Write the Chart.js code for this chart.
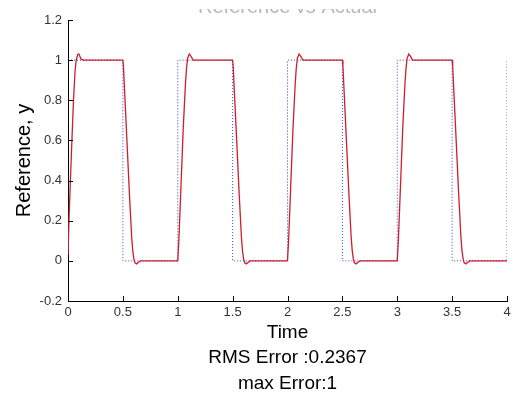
<!DOCTYPE html>
<html>
<head>
<meta charset="utf-8">
<script src="https://cdn.jsdelivr.net/npm/chart.js@4/dist/chart.umd.min.js"></script>
<style>
	body { margin: 0; background: #fff; }
	#wrap { width: 519px; height: 401px; }
</style>
</head>
<body>
<div id="wrap"><canvas id="chart" width="519" height="401"></canvas></div>
<script>
// reference square wave (blue dotted)
var refTime  = [0, 0.5, 0.5, 1, 1, 1.5, 1.5, 2, 2, 2.5, 2.5, 3, 3, 3.5, 3.5, 4, 4];
var refValue = [1, 1,   0,   0, 1, 1,   0,   0, 1, 1,   0,   0, 1, 1,   0,   0, 1];

// actual response (red)
var actualTime = [
	0, 0.01, 0.03, 0.05, 0.065, 0.075, 0.09, 0.1, 0.12, 0.14,
	0.5, 0.505, 0.53, 0.56, 0.58, 0.59, 0.6, 0.61, 0.625, 0.64, 0.66,
	1, 1.01, 1.03, 1.05, 1.07, 1.08, 1.09, 1.105, 1.12, 1.14,
	1.5, 1.505, 1.53, 1.56, 1.58, 1.59, 1.6, 1.61, 1.625, 1.64, 1.66,
	2, 2.01, 2.03, 2.05, 2.07, 2.08, 2.09, 2.105, 2.12, 2.14,
	2.5, 2.505, 2.53, 2.56, 2.58, 2.59, 2.6, 2.61, 2.625, 2.64, 2.66,
	3, 3.01, 3.03, 3.05, 3.07, 3.08, 3.09, 3.105, 3.12, 3.14,
	3.5, 3.505, 3.53, 3.56, 3.58, 3.59, 3.6, 3.61, 3.625, 3.64, 3.66,
	4
];
var actualValue = [
	0.03, 0.22, 0.52, 0.8, 0.95, 1.0, 1.03, 1.03, 1.005, 1.0,
	1.0, 0.97, 0.68, 0.33, 0.12, 0.05, 0.01, -0.01, -0.015, -0.008, 0,
	0, 0.1, 0.38, 0.66, 0.88, 0.96, 1.01, 1.03, 1.02, 1.0,
	1.0, 0.97, 0.68, 0.33, 0.12, 0.05, 0.01, -0.01, -0.015, -0.008, 0,
	0, 0.1, 0.38, 0.66, 0.88, 0.96, 1.01, 1.03, 1.02, 1.0,
	1.0, 0.97, 0.68, 0.33, 0.12, 0.05, 0.01, -0.01, -0.015, -0.008, 0,
	0, 0.1, 0.38, 0.66, 0.88, 0.96, 1.01, 1.03, 1.02, 1.0,
	1.0, 0.97, 0.68, 0.33, 0.12, 0.05, 0.01, -0.01, -0.015, -0.008, 0,
	0
];

var titleText = 'Reference vs Actual';
var xTitle = ['Time', 'RMS Error :0.2367', 'max Error:1'];
var yTitle = 'Reference, y';

var toPoints = function(xs, ys)
{
	var pts = [];
	for(var i=0;i<xs.length;i++) pts.push({ x: xs[i], y: ys[i] });
	return pts;
};

// 1 instead of 1.0, 0 instead of -0.0
var shortLabel = function(v)
{
	var n = Math.round(v * 10) / 10;
	if( n === 0 ) n = 0;
	return String(n);
};

var FONT = '"Liberation Sans", Arial, sans-serif';

// matlab style: tick marks point into the plot
var innerTicks = {
	id: 'innerTicks',
	afterDraw: function(chart)
	{
		var ctx = chart.ctx;
		var area = chart.chartArea;
		var xs = chart.scales.x, ys = chart.scales.y;
		ctx.save();
		ctx.strokeStyle = '#000';
		ctx.lineWidth = 1;
		ctx.beginPath();
		xs.ticks.forEach(function(t)
		{
			var px = Math.round(xs.getPixelForValue(t.value)) + 0.5;
			ctx.moveTo(px, area.bottom);
			ctx.lineTo(px, area.bottom - 5);
		});
		ys.ticks.forEach(function(t)
		{
			var py = Math.round(ys.getPixelForValue(t.value)) + 0.5;
			ctx.moveTo(area.left, py);
			ctx.lineTo(area.left + 5, py);
		});
		ctx.stroke();

		// title is cut off at the top of the picture, only its bottom shows
		ctx.beginPath();
		ctx.rect(0, 9, chart.width, 5);
		ctx.clip();
		ctx.fillStyle = '#b8b8b8';
		ctx.font = '20px ' + FONT;
		ctx.textAlign = 'center';
		ctx.textBaseline = 'alphabetic';
		ctx.fillText(titleText, (area.left + area.right) / 2, 13);
		ctx.restore();
	}
};

new Chart(document.getElementById('chart').getContext('2d'), {
	type: 'line',
	data: {
		datasets: [
			{
				data: toPoints(actualTime, actualValue),
				borderColor: '#cc1f2c',
				borderWidth: 1.3,
				pointRadius: 0,
				tension: 0,
				fill: false
			},
			{
				data: toPoints(refTime, refValue),
				borderColor: '#2d46d8',
				borderWidth: 1,
				borderDash: [1, 2],
				pointRadius: 0,
				tension: 0,
				fill: false
			}
		]
	},
	options: {
		responsive: false,
		animation: false,
		layout: { padding: { top: 20, right: 12, left: 0, bottom: 0 } },
		plugins: { legend: { display: false }, tooltip: { enabled: false } },
		scales: {
			x: {
				type: 'linear',
				min: 0, max: 4,
				ticks: { stepSize: 0.5, color: '#333', padding: 4, maxRotation: 0, font: { family: FONT, size: 13 }, callback: shortLabel },
				grid: { display: false, drawTicks: false },
				border: { display: true, color: '#000', width: 1 },
				title: { display: true, text: xTitle, color: '#000', font: { family: FONT, size: 19, lineHeight: 1.34 }, padding: { top: 0, bottom: 5 } },
				afterFit: function(scale) { scale.height = 100; }
			},
			y: {
				min: -0.2, max: 1.2,
				ticks: { stepSize: 0.2, color: '#333', padding: 6, font: { family: FONT, size: 13 }, callback: shortLabel },
				grid: { display: false, drawTicks: false },
				border: { display: true, color: '#000', width: 1 },
				title: { display: true, text: yTitle, color: '#000', font: { family: FONT, size: 20, lineHeight: 1.2 }, padding: { top: 12, bottom: 0 } },
				afterFit: function(scale) { scale.width = 68; }
			}
		}
	},
	plugins: [innerTicks]
});
</script>
</body>
</html>
